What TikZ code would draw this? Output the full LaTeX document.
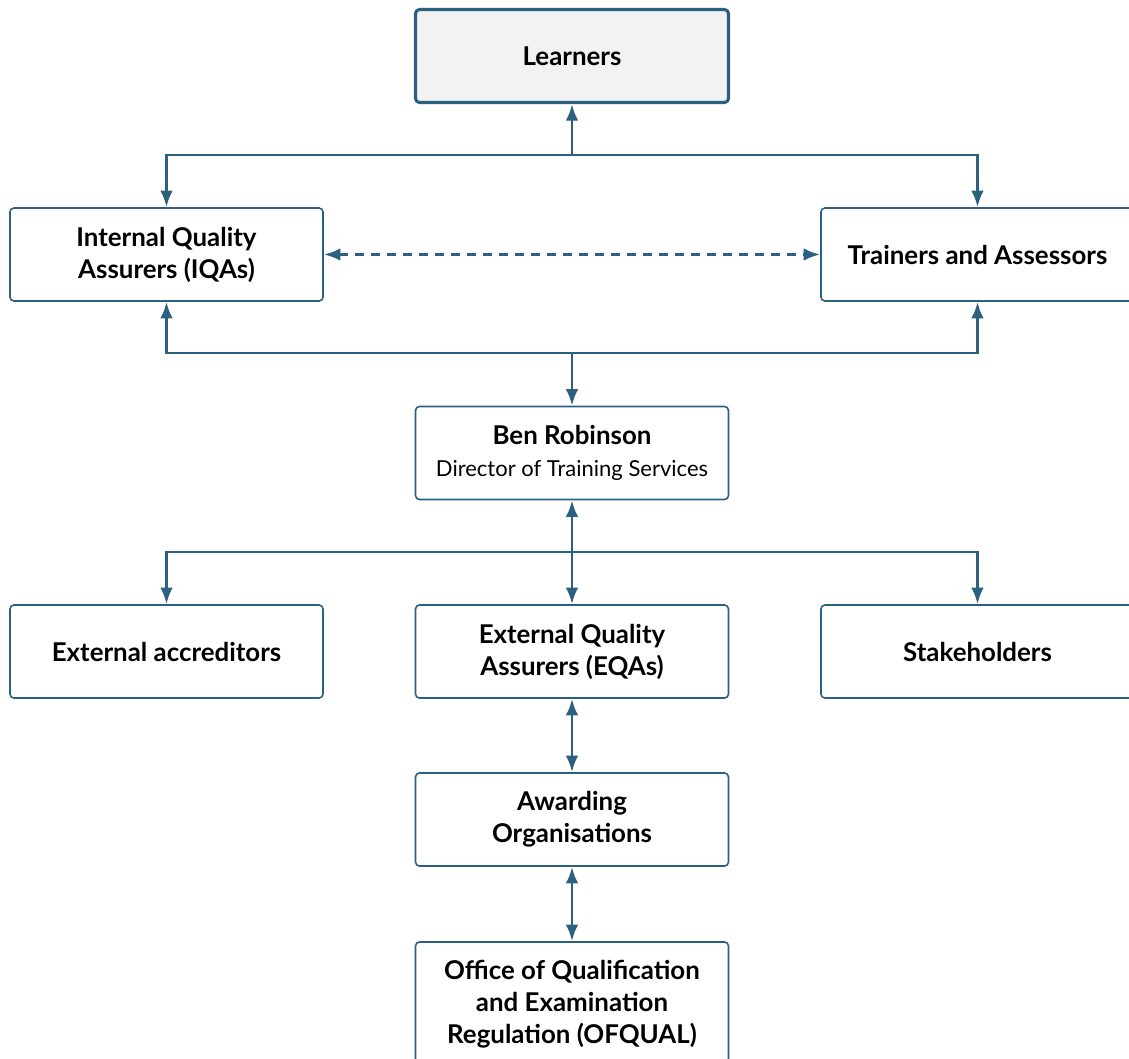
\documentclass[tikz,border=0pt]{standalone}
\usepackage{fontspec}
\setmainfont{Lato}
\usetikzlibrary{arrows.meta}
\definecolor{orgblue}{RGB}{43,96,128}
\definecolor{leadfill}{RGB}{242,242,242}

\begin{document}
\begin{tikzpicture}[
	x=0.75pt, y=-0.75pt,
	> = {Latex[length=12.5pt,width=9.5pt]},
	unit/.style = {draw=orgblue, line width=1.2pt, rounded corners=3pt, fill=white, inner sep=0pt,
		minimum width=234.75pt, minimum height=69.75pt, align=center,
		font=\fontsize{19.4}{24}\selectfont\bfseries},
	lead/.style = {unit, line width=2.3pt, fill=leadfill},
	link/.style = {draw=orgblue, line width=2.2pt}
	]
	\useasboundingbox (0,0) rectangle (1129,1058);
	\clip (0,0) rectangle (1129,1058);

	% boxes
	\node[lead] (learners) at (572,56) {Learners};
	\node[unit] (iqa)   at (166.5,254.5) {Internal Quality\\Assurers (IQAs)};
	\node[unit] (train) at (977.5,254.5) {Trainers and Assessors};
	\node[unit] (ben)   at (572,453) {Ben Robinson\\{\mdseries\fontsize{16.5}{24}\selectfont Director of Training Services}};
	\node[unit] (extacc) at (166.5,651.5) {External accreditors};
	\node[unit] (eqa)    at (572,651.5) {External Quality\\Assurers (EQAs)};
	\node[unit] (stake)  at (977.5,651.5) {Stakeholders};
	\node[unit] (award)  at (572,819.5) {Awarding\\Organisations};
	\node[unit, minimum height=93pt] (ofqual) at (572,1004) {Office of Qualification\\and Examination\\Regulation (OFQUAL)};

	% branch points
	\coordinate (@top) at (572,155);
	\coordinate (@mid) at (572,353);
	\coordinate (@low) at (572,552);

	\draw[link,->] (@top) -- (learners);
	\draw[link,->] (@top) -| (iqa);
	\draw[link,->] (@top) -| (train);
	\draw[link,<->,dashed,dash pattern=on 7pt off 5pt] (iqa) -- (train);

	\draw[link,->] (@mid) -| (iqa);
	\draw[link,->] (@mid) -| (train);
	\draw[link,->] (@mid) -- (ben);

	\draw[link,<->] (ben) -- (eqa);
	\draw[link,->] (@low) -| (extacc);
	\draw[link,->] (@low) -| (stake);

	\draw[link,<->] (eqa) -- (award);
	\draw[link,<->] (award) -- (ofqual);

\end{tikzpicture}
\end{document}
